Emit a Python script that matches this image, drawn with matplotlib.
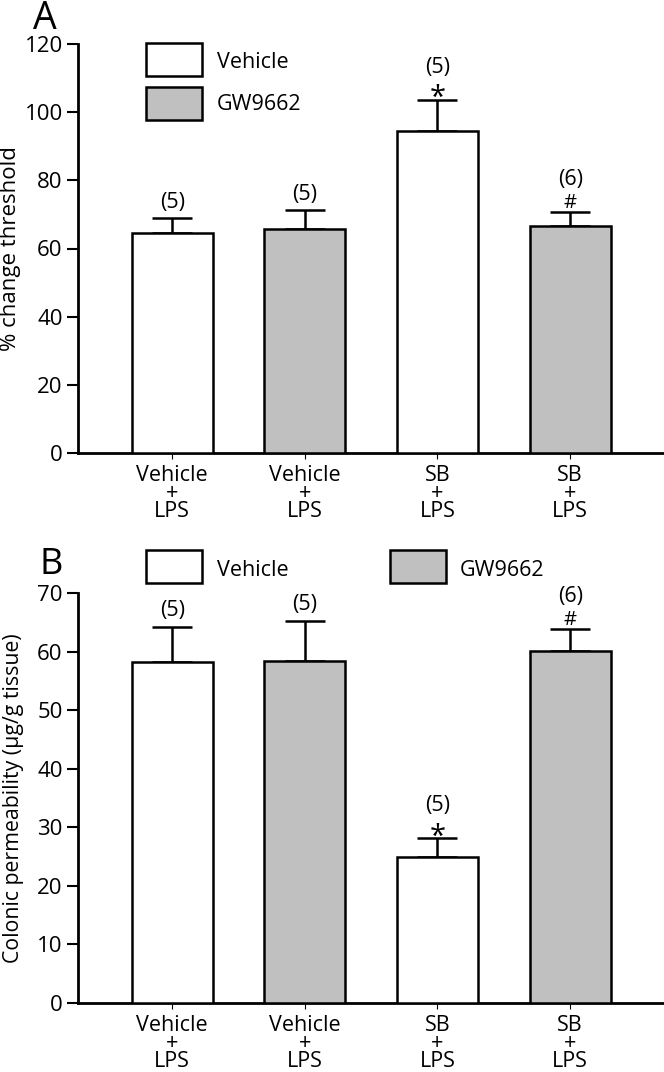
import matplotlib
matplotlib.use('Agg')
import matplotlib.pyplot as plt
from matplotlib.patches import Rectangle

plt.rcParams['font.family'] = ['Open Sans', 'DejaVu Sans']

# ---------------- data ----------------
group_labels = ['Vehicle\n+\nLPS', 'Vehicle\n+\nLPS', 'SB\n+\nLPS', 'SB\n+\nLPS']
treatments = ['Vehicle', 'GW9662', 'Vehicle', 'GW9662']
legend_labels = ['Vehicle', 'GW9662']

a_mean = [64.5, 65.8, 94.6, 66.7]
a_sem = [4.4, 5.5, 9.0, 3.9]
a_n = ['(5)', '(5)', '(5)', '(6)']
a_sig = ['', '', '*', '#']
a_yticks = [0, 20, 40, 60, 80, 100, 120]
a_ylabel = '% change threshold'

b_mean = [58.2, 58.4, 24.9, 60.1]
b_sem = [6.0, 6.9, 3.2, 3.7]
b_n = ['(5)', '(5)', '(5)', '(6)']
b_sig = ['', '', '*', '#']
b_yticks = [0, 10, 20, 30, 40, 50, 60, 70]
b_ylabel = 'Colonic permeability (µg/g tissue)'

colors = {'Vehicle': 'white', 'GW9662': '#c0c0c0'}

W, H = 664, 1072
fig = plt.figure(figsize=(W / 100, H / 100), dpi=100)


def fx(px):
    return px / W


def fy(py):
    return 1 - py / H


def make_axes(top_px, bottom_px):
    left, right = 78, 663
    return fig.add_axes([fx(left), fy(bottom_px), (right - left) / W, (bottom_px - top_px) / H])


def draw_panel(ax, means, sems, ns, sigs, yticks, ylabel, ylabel_x, ylabel_size):
    x = list(range(len(means)))
    cols = [colors[t] for t in treatments]
    ax.bar(x, means, width=0.61, color=cols, edgecolor='black', linewidth=1.8, zorder=3)
    ax.errorbar(x, means, yerr=[[0] * len(means), sems], fmt='none', ecolor='black',
                elinewidth=1.8, capsize=14.4, capthick=1.8, zorder=2)
    for xi, m, s, n, sig in zip(x, means, sems, ns, sigs):
        top = m + s
        if sig == '*':
            ax.annotate(sig, (xi, top), xytext=(0, -4.5), textcoords='offset points',
                        ha='center', va='baseline', fontsize=21)
            ax.annotate(n, (xi, top), xytext=(0, 23.6), textcoords='offset points',
                        ha='center', va='center', fontsize=15.5)
        elif sig == '#':
            ax.annotate(sig, (xi, top), xytext=(0, 2.9), textcoords='offset points',
                        ha='center', va='baseline', fontsize=14.5)
            ax.annotate(n, (xi, top), xytext=(0, 23.6), textcoords='offset points',
                        ha='center', va='center', fontsize=15.5)
        else:
            ax.annotate(n, (xi, top), xytext=(0, 11.5), textcoords='offset points',
                        ha='center', va='center', fontsize=15.5)
    ax.set_xlim(-0.71, 3.70)
    ax.set_ylim(yticks[0], yticks[-1])
    ax.set_yticks(yticks)
    ax.set_xticks(x)
    ax.set_xticklabels(group_labels, fontsize=15.5, linespacing=0.82)
    ax.tick_params(axis='y', labelsize=16, length=8, width=1.5, pad=3)
    ax.tick_params(axis='x', length=4.3, width=0.8, pad=4.5)
    for sp in ['top', 'right']:
        ax.spines[sp].set_visible(False)
    for sp in ['left', 'bottom']:
        ax.spines[sp].set_linewidth(2)
    ax.set_ylabel(ylabel, fontsize=ylabel_size)
    ax.yaxis.set_label_coords(ylabel_x, 0.5)


def legend_entry(x_px, y_top_px, label, color, text_x_px, baseline_px):
    fig.patches.append(Rectangle((fx(x_px), fy(y_top_px + 33)), 56 / W, 33 / H,
                                 transform=fig.transFigure, facecolor=color,
                                 edgecolor='black', linewidth=1.8))
    fig.text(fx(text_x_px), fy(baseline_px), label, fontsize=15.5, ha='left', va='baseline')


axA = make_axes(44, 453)
draw_panel(axA, a_mean, a_sem, a_n, a_sig, a_yticks, a_ylabel, -0.097, 16)
axB = make_axes(593, 1003)
draw_panel(axB, b_mean, b_sem, b_n, b_sig, b_yticks, b_ylabel, -0.092, 15.3)

# legends
legend_entry(146, 43, legend_labels[0], colors['Vehicle'], 217, 68.5)
legend_entry(146, 87, legend_labels[1], colors['GW9662'], 217, 110.5)
legend_entry(146, 550, legend_labels[0], colors['Vehicle'], 217, 575.5)
legend_entry(390, 550, legend_labels[1], colors['GW9662'], 460, 575.5)

# panel letters
fig.text(fx(45), fy(29), 'A', fontsize=27, ha='center', va='baseline')
fig.text(fx(51), fy(574), 'B', fontsize=26, ha='center', va='baseline')

fig.savefig('out.png', dpi=100)
